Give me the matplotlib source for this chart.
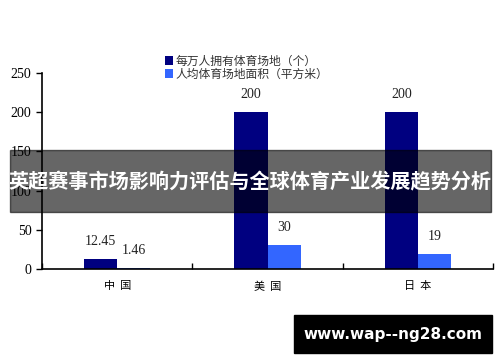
import matplotlib
matplotlib.use('Agg')
import matplotlib.pyplot as plt
from matplotlib.patches import Rectangle
import numpy as np

plt.rcParams['font.family'] = ['Liberation Serif', 'Noto Sans CJK SC', 'DejaVu Sans']

# data
countries = ['中国', '美国', '日本']
venues_per_10k = [12.45, 200, 200]   # 每万人拥有体育场地（个）
area_per_person = [1.46, 30, 19]     # 人均体育场地面积（平方米）
venue_labels = ['12.45', '200', '200']
area_labels = ['1.46', '30', '19']
series_names = ['每万人拥有体育场地（个）', '人均体育场地面积（平方米）']

fig = plt.figure(figsize=(5, 3.62), dpi=100)
ax = fig.add_axes([0.084, 0.257, 0.902, 0.541])

x = np.arange(len(countries))
w = 0.22
b1 = ax.bar(x - w / 2, venues_per_10k, w, color='#000080', label=series_names[0])
b2 = ax.bar(x + w / 2, area_per_person, w, color='#3366ff', label=series_names[1])

for bars, labs in ((b1, venue_labels), (b2, area_labels)):
    for r, t in zip(bars, labs):
        ax.annotate(t, (r.get_x() + r.get_width() / 2, r.get_height()),
                    xytext=(0, 8), textcoords='offset points',
                    ha='center', va='bottom', fontsize=10, color='#222222')

ax.set_xlim(-0.5, 2.5)
ax.set_ylim(0, 250)
ax.set_yticks([0, 50, 100, 150, 200, 250])
ax.tick_params(axis='y', labelsize=10, length=4, width=1, direction='out')

# category boundaries as ticks, names as minor labels
ax.set_xticks([-0.5, 0.5, 1.5, 2.5])
ax.set_xticklabels([])
ax.set_xticks(x, minor=True)
ax.set_xticklabels(['  '.join(c) for c in countries], minor=True,
                   family=['Noto Sans CJK SC'], fontsize=8)
ax.tick_params(axis='x', which='major', length=4, width=1, direction='in')
ax.tick_params(axis='x', which='minor', length=0, pad=9)

for s in ('top', 'right'):
    ax.spines[s].set_visible(False)
ax.spines['left'].set_linewidth(1.2)
ax.spines['bottom'].set_linewidth(1.2)

leg = ax.legend(loc='upper left', bbox_to_anchor=(0.26, 1.125), frameon=False,
                fontsize=8.5, handlelength=0.7, handleheight=0.7,
                handletextpad=0.2, labelspacing=0.0, borderpad=0)
for t in leg.get_texts():
    t.set_family(['Noto Sans CJK SC'])
    t.set_color('#333333')

# overlay banner
fig.patches.append(Rectangle((10 / 500, 1 - 212 / 362), 481 / 500, 62 / 362,
                             transform=fig.transFigure, color='black',
                             alpha=0.6, zorder=5))
fig.text(250 / 500, 1 - 182 / 362, '英超赛事市场影响力评估与全球体育产业发展趋势分析',
         ha='center', va='center', color='white', fontsize=14.5, fontweight='bold',
         family=['Noto Sans CJK SC'], zorder=6)

# watermark
fig.patches.append(Rectangle((294 / 500, 1 - 353 / 362), 198 / 500, 38 / 362,
                             transform=fig.transFigure, color='black', zorder=5))
fig.text(393 / 500, 1 - 334 / 362, 'www.wap--ng28.com', ha='center', va='center',
         color='white', fontsize=11, fontweight='bold', family=['DejaVu Sans'], zorder=6)

fig.savefig('out.png', dpi=100)
